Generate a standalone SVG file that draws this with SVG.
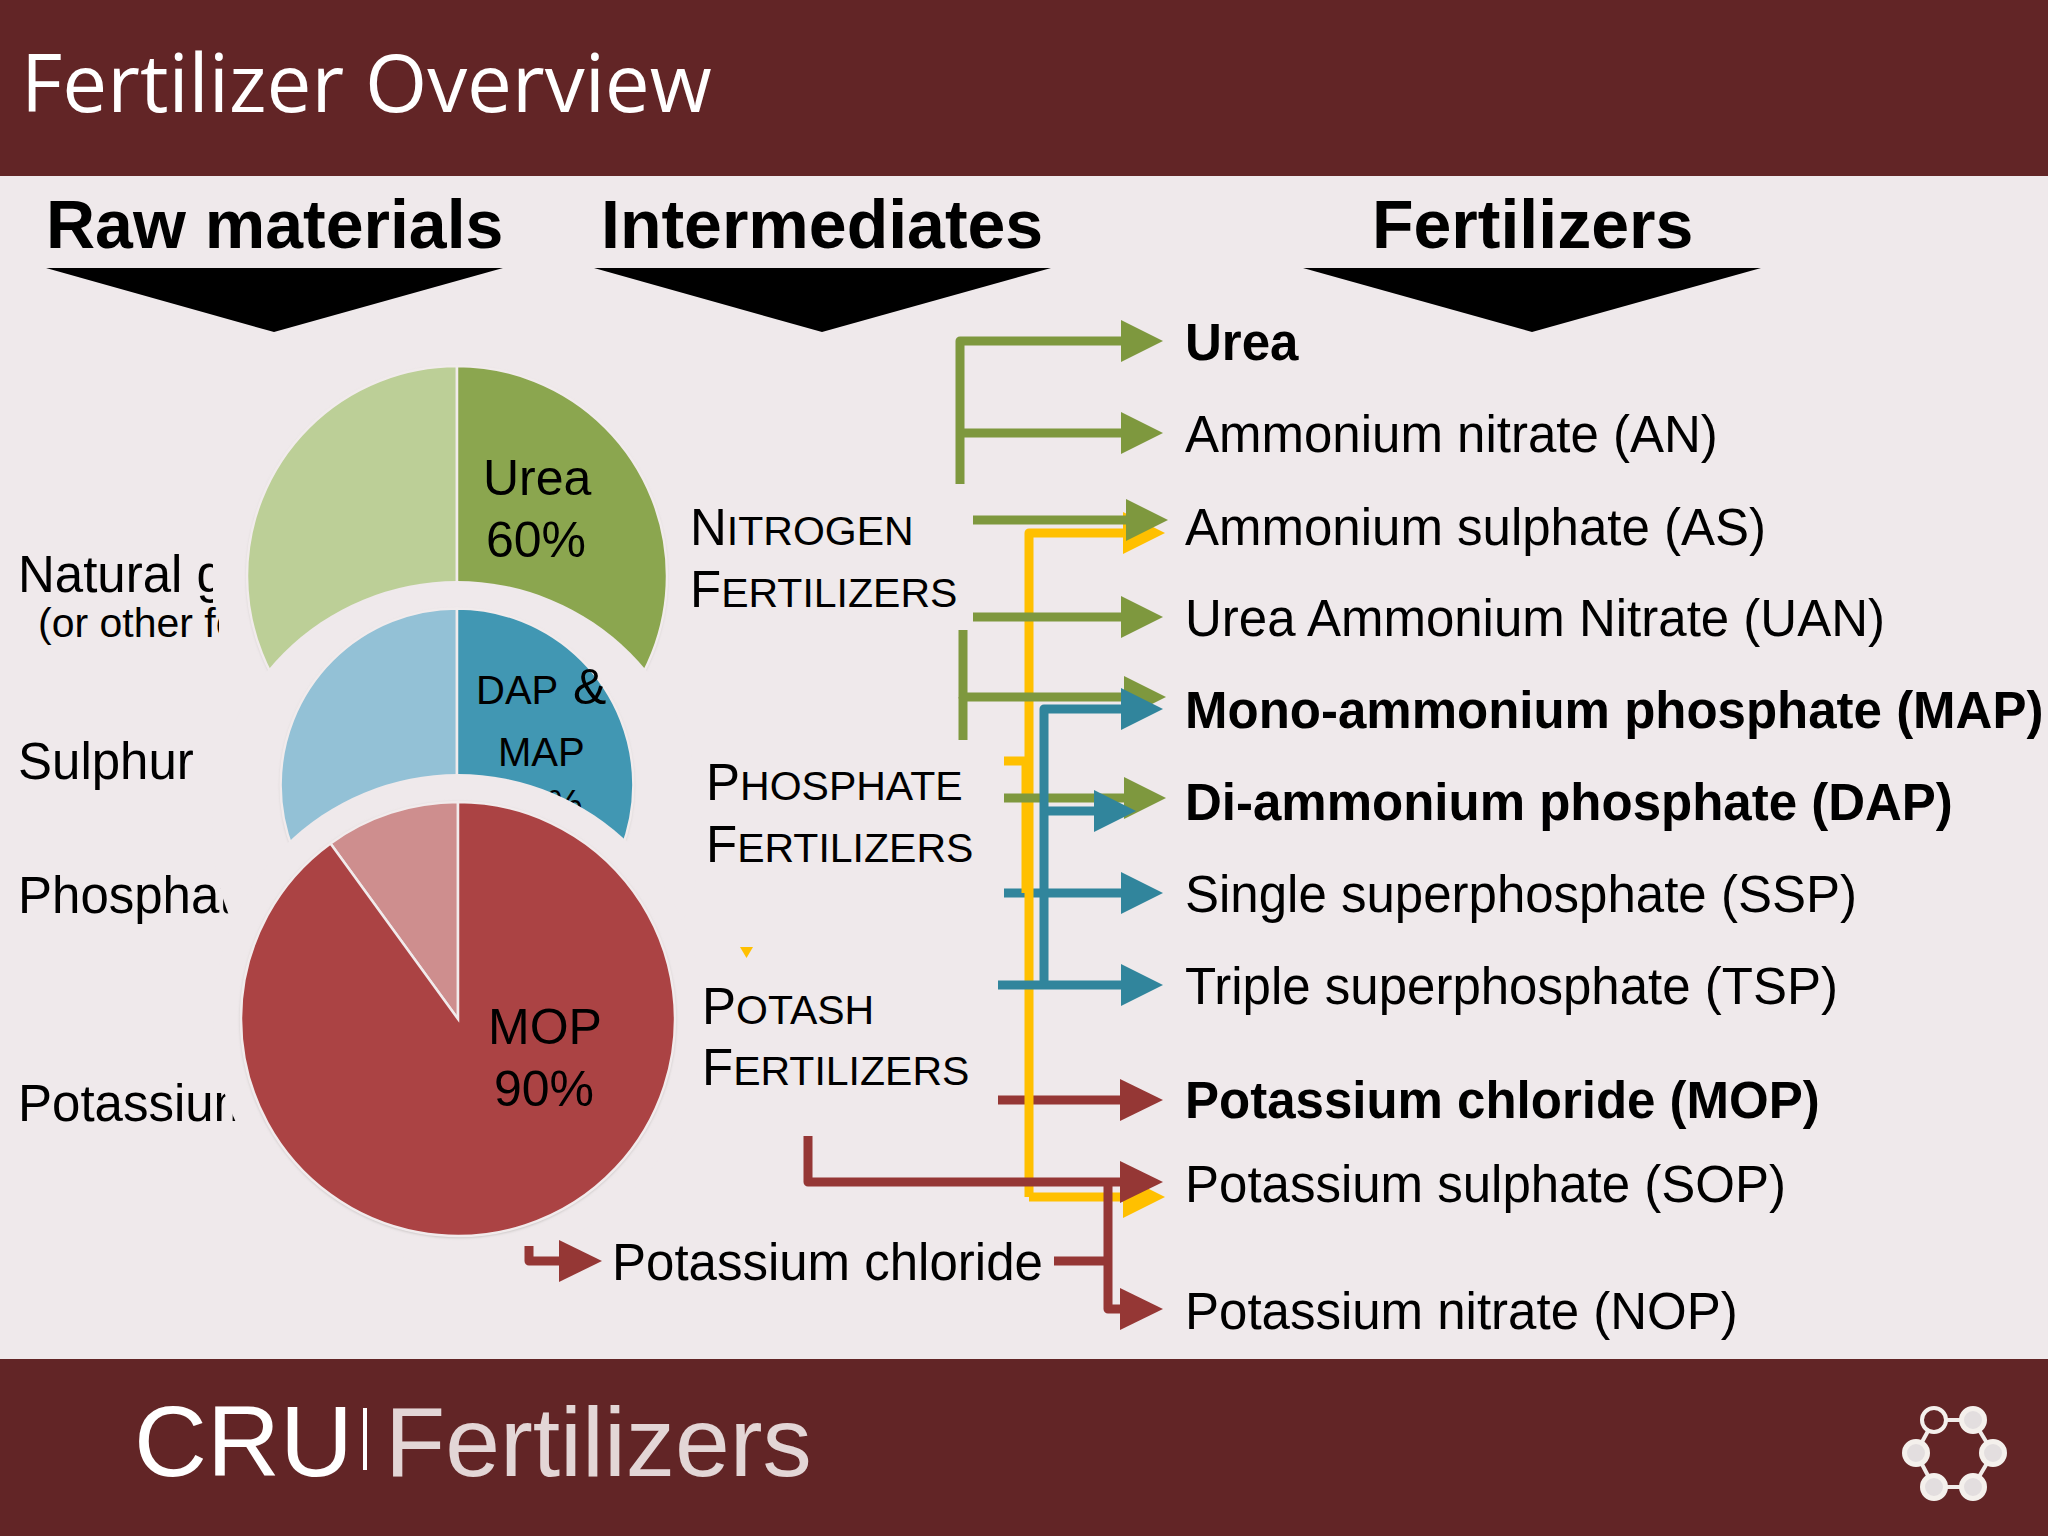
<svg xmlns="http://www.w3.org/2000/svg" width="2048" height="1536" viewBox="0 0 2048 1536">
<style>
text{font-family:"Liberation Sans",Arial,sans-serif;fill:#000}
.l{font-size:51px}
.b{font-weight:bold}
.h{font-size:68px;font-weight:bold}
.s{font-size:41px}
.p{font-size:50px}
.d{font-size:40px}
.g{stroke:#7E983E}.y{stroke:#FFC000}.bl{stroke:#31859C}.r{stroke:#953735}
.c{fill:none;stroke-width:9;stroke-linejoin:round}
.sl{stroke:#F1EBEC;stroke-width:2.5}
.halo{fill:#EFE9EB}
.ln{stroke:#F1ECE9;stroke-width:4}
.nd{fill:#E3DEDF;stroke:#F4F0EC;stroke-width:5}
</style>
<defs>
<marker id="ag" markerUnits="userSpaceOnUse" markerWidth="42" markerHeight="42" refX="1" refY="21" orient="auto"><path d="M0 0L42 21L0 42Z" fill="#7E983E"/></marker>
<marker id="ay" markerUnits="userSpaceOnUse" markerWidth="42" markerHeight="42" refX="1" refY="21" orient="auto"><path d="M0 0L42 21L0 42Z" fill="#FFC000"/></marker>
<marker id="ab" markerUnits="userSpaceOnUse" markerWidth="42" markerHeight="42" refX="1" refY="21" orient="auto"><path d="M0 0L42 21L0 42Z" fill="#31859C"/></marker>
<marker id="ar" markerUnits="userSpaceOnUse" markerWidth="43" markerHeight="42" refX="1" refY="21" orient="auto"><path d="M0 0L43 21L0 42Z" fill="#953735"/></marker>
<filter id="sh" x="-5%" y="-5%" width="110%" height="110%"><feGaussianBlur stdDeviation="1.500"/></filter>
<clipPath id="c1"><rect x="0" y="530" width="213" height="90"/></clipPath>
<clipPath id="c2"><rect x="0" y="600" width="219" height="60"/></clipPath>
<clipPath id="c3"><rect x="0" y="860" width="235" height="70"/></clipPath>
<clipPath id="c4"><polygon points="0,1070 231,1070 235,1093 240,1121 242,1140 0,1140"/></clipPath>
</defs>
<rect width="2048" height="1536" fill="#EFE9EB"/>
<rect id="header" width="2048" height="176" fill="#622526"/>
<rect id="footer" y="1359" width="2048" height="177" fill="#622526"/>
<text x="21" y="112" style="font-family:'Open Sans','Liberation Sans',sans-serif;font-size:80px;fill:#fff">Fertilizer Overview</text>

<g id="col-raw"><text class="h" x="46" y="248">Raw materials</text><polygon points="46,268 503,268 274,332"/></g>
<g id="col-intermediates"><text class="h" x="601" y="248">Intermediates</text><polygon points="594,268 1051,268 822,332"/></g>
<g id="col-fertilizers"><text class="h" x="1372" y="248">Fertilizers</text><polygon points="1303,268 1761,268 1532,332"/></g>

<g id="raw-labels">
<text class="l" x="18" y="592" clip-path="url(#c1)">Natural g</text>
<text class="s" x="38" y="637" clip-path="url(#c2)">(or other fo</text>
<text class="l" x="18" y="779">Sulphur</text>
<text class="l" x="18" y="913" clip-path="url(#c3)">Phosphat</text>
<text class="l" x="18" y="1121" clip-path="url(#c4)">Potassium</text>
</g>

<g id="pie-nitrogen">
<circle cx="457" cy="577" r="210" fill="#BDB9B8" filter="url(#sh)"/>
<path class="sl" d="M457 576L457 366A210 210 0 0 0 457 786Z" fill="#BCCF97"/>
<path class="sl" d="M457 576L457 366A210 210 0 0 1 457 786Z" fill="#8BA64F"/>
<circle class="halo" cx="457" cy="826" r="245"/>
<text class="p" x="483" y="495">Urea</text>
<text class="p" x="486" y="557">60%</text>
</g>
<g id="pie-phosphate">
<circle cx="457" cy="786" r="176.500" fill="#BDB9B8" filter="url(#sh)"/>
<path class="sl" d="M457 785L457 608.500A176.500 176.500 0 0 0 457 961.500Z" fill="#93C1D6"/>
<path class="sl" d="M457 785L457 608.500A176.500 176.500 0 0 1 457 961.500Z" fill="#4197B3"/>
<text class="d" x="476" y="704">DAP</text>
<text x="573" y="704" style="font-size:50px">&amp;</text>
<text class="d" x="498" y="766">MAP</text>
<text class="d" x="547" y="818">%</text>
<circle class="halo" cx="458" cy="1019" r="245"/>
</g>
<g id="pie-potash">
<circle cx="458" cy="1020" r="217.500" fill="#BDB9B8" filter="url(#sh)"/>
<path class="sl" d="M458 1019L458 802A217 217 0 0 0 330.500 843.400Z" fill="#CE8E8E"/>
<path class="sl" d="M458 1019L330.500 843.400A217 217 0 1 0 458 802Z" fill="#AB4344"/>
<text class="p" x="488" y="1044">MOP</text>
<text class="p" x="494" y="1106">90%</text>
</g>

<g id="intermediate-labels">
<g id="nitrogen"><text class="l" x="690" y="545">N<tspan class="s">ITROGEN</tspan></text><text class="l" x="690" y="607">F<tspan class="s">ERTILIZERS</tspan></text></g>
<g id="phosphate"><text class="l" x="706" y="800">P<tspan class="s">HOSPHATE</tspan></text><text class="l" x="706" y="862">F<tspan class="s">ERTILIZERS</tspan></text></g>
<g id="potash"><text class="l" x="702" y="1024">P<tspan class="s">OTASH</tspan></text><text class="l" x="702" y="1085">F<tspan class="s">ERTILIZERS</tspan></text></g>
<polygon id="mark" points="740,947 753,947 746.500,958" fill="#FFC000"/>
</g>

<g id="connectors">
<path class="c bl" d="M1004 893H1122" marker-end="url(#ab)"/>
<path class="c r" d="M998 1100H1121" marker-end="url(#ar)"/>
<path class="c y" d="M1029 1197V533H1124" marker-end="url(#ay)"/>
<path class="c y" d="M1029 1197H1124" marker-end="url(#ay)"/>
<path class="c y" d="M1004 761H1026V893"/>
<path class="c g" d="M960 484V341H1122" marker-end="url(#ag)"/>
<path class="c g" d="M960 433H1122" marker-end="url(#ag)"/>
<path class="c g" d="M973 520H1127" marker-end="url(#ag)"/>
<path class="c g" d="M973 617H1122" marker-end="url(#ag)"/>
<path class="c g" d="M963 630V697H1125" marker-end="url(#ag)"/>
<path class="c g" d="M963 697V740"/>
<path class="c g" d="M1004 798H1125" marker-end="url(#ag)"/>
<path class="c bl" d="M1044 988V709H1122" marker-end="url(#ab)"/>
<path class="c bl" d="M1044 811H1095" marker-end="url(#ab)"/>
<path class="c bl" d="M998 985H1122" marker-end="url(#ab)"/>
<path class="c r" d="M808 1136V1182H1121" marker-end="url(#ar)"/>
<path class="c r" d="M1108 1182V1309H1121" marker-end="url(#ar)"/>
<path class="c r" d="M1054 1261H1108"/>
<path class="c r" d="M529 1246V1261H560" marker-end="url(#ar)"/>
</g>

<text id="potassium-chloride" class="l" x="612" y="1280">Potassium chloride</text>

<g id="fertilizer-labels">
<text id="urea" class="l b" x="1185" y="360">Urea</text>
<text id="an" class="l" x="1185" y="452">Ammonium nitrate (AN)</text>
<text id="as" class="l" x="1185" y="545">Ammonium sulphate (AS)</text>
<text id="uan" class="l" x="1185" y="636">Urea Ammonium Nitrate (UAN)</text>
<text id="map" class="l b" x="1185" y="728">Mono-ammonium phosphate (MAP)</text>
<text id="dap" class="l b" x="1185" y="820">Di-ammonium phosphate (DAP)</text>
<text id="ssp" class="l" x="1185" y="912">Single superphosphate (SSP)</text>
<text id="tsp" class="l" x="1185" y="1004">Triple superphosphate (TSP)</text>
<text id="mop" class="l b" x="1185" y="1118">Potassium chloride (MOP)</text>
<text id="sop" class="l" x="1185" y="1202">Potassium sulphate (SOP)</text>
<text id="nop" class="l" x="1185" y="1329">Potassium nitrate (NOP)</text>
</g>

<g id="brand">
<text x="134" y="1476" style="font-size:101px;fill:#fff">CRU</text>
<rect x="363" y="1408" width="4" height="62" fill="#fff"/>
<text x="385" y="1476" style="font-size:98.500px;fill:#E3D6D6">Fertilizers</text>
</g>
<g id="logo">
<path class="ln" fill="none" d="M1934 1420H1973L1993 1453L1973 1487H1934L1916 1453Z"/>
<circle cx="1934" cy="1420" r="12" fill="#622526" stroke="#F4F0EC" stroke-width="4"/>
<circle class="nd" cx="1973" cy="1420" r="11.500"/>
<circle class="nd" cx="1993" cy="1453" r="11.500"/>
<circle class="nd" cx="1973" cy="1487" r="11.500"/>
<circle class="nd" cx="1934" cy="1487" r="11.500"/>
<circle class="nd" cx="1916" cy="1453" r="11.500"/>
</g>
</svg>
